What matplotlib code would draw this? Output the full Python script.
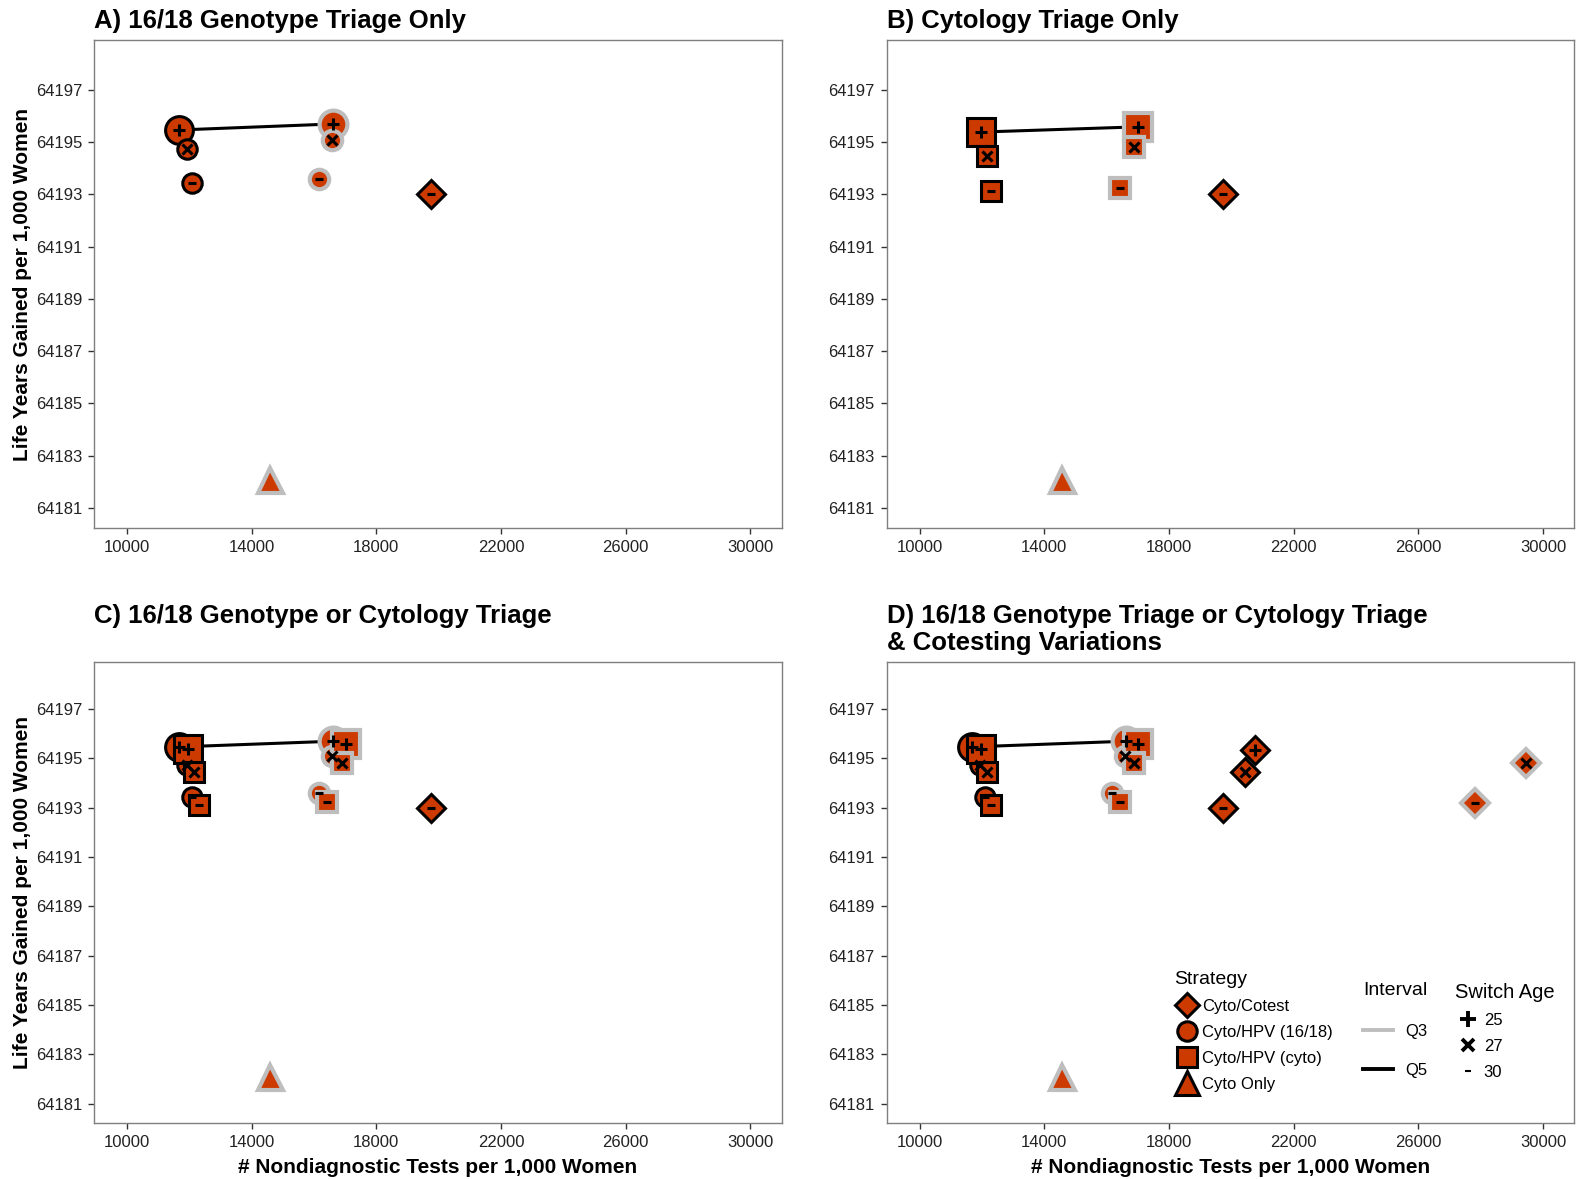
import matplotlib

matplotlib.use("Agg")
import matplotlib.pyplot as plt  # noqa: E402
from matplotlib.lines import Line2D  # noqa: E402

plt.rcParams["font.family"] = ["Liberation Sans", "DejaVu Sans"]

# ---- data ----
strategy = (["Cyto/HPV (16/18)"] * 6 + ["Cyto/HPV (cyto)"] * 6
            + ["Cyto/Cotest"] * 5 + ["Cyto Only"])
interval = (["Q5", "Q5", "Q5", "Q3", "Q3", "Q3"] * 2
            + ["Q5", "Q5", "Q5", "Q3", "Q3"] + ["Q3"])
switch_age = ([25, 27, 30, 25, 27, 30] * 2
              + [25, 27, 30, 27, 30] + [None])
tests = [11677, 11935, 12097, 16613, 16580, 16161,
         11971, 12165, 12294, 17011, 16882, 16430,
         20759, 20436, 19742, 29451, 27803,
         14580]
life_years = [64195.46, 64194.73, 64193.42, 64195.69, 64195.08, 64193.58,
              64195.38, 64194.46, 64193.12, 64195.58, 64194.81, 64193.23,
              64195.33, 64194.43, 64193.00, 64194.80, 64193.20,
              64182.08]

panel_titles = ["A) 16/18 Genotype Triage Only",
                "B) Cytology Triage Only",
                "C) 16/18 Genotype or Cytology Triage",
                "D) 16/18 Genotype Triage or Cytology Triage\n& Cotesting Variations"]
panel_strategies = [["Cyto/HPV (16/18)"], ["Cyto/HPV (cyto)"],
                    ["Cyto/HPV (16/18)", "Cyto/HPV (cyto)"],
                    ["Cyto/HPV (16/18)", "Cyto/HPV (cyto)"]]
panel_cotest_all = [False, False, False, True]
frontier_strategy = ["Cyto/HPV (16/18)", "Cyto/HPV (cyto)",
                     "Cyto/HPV (16/18)", "Cyto/HPV (16/18)"]

x_ticks = [10000, 14000, 18000, 22000, 26000, 30000]
y_ticks = [64181, 64183, 64185, 64187, 64189, 64191, 64193, 64195, 64197]

# ---- styles ----
FILL = "#CD3A00"
EDGE = {"Q5": "black", "Q3": "#BEBEBE"}
EDGE_W = {"Q5": 2.2, "Q3": 3.0}
SHAPE = {"Cyto/Cotest": "D", "Cyto/HPV (16/18)": "o",
         "Cyto/HPV (cyto)": "s", "Cyto Only": "^"}
SIZE = {25: 20, 27: 14, 30: 14}
SYMBOL = {25: ("+", 9, 2.2), 27: ("x", 7, 2.2), 30: ("_", 6, 2.2)}
DRAW_ORDER = ["Cyto/Cotest", "Cyto/HPV (16/18)", "Cyto/HPV (cyto)", "Cyto Only"]
W, H = 1579, 1179


def marker_size(strat, age):
    if strat == "Cyto/Cotest":
        return 14
    if strat == "Cyto Only":
        return 18
    return SIZE[age]


def panel_points(i):
    idx = []
    for k, s in enumerate(strategy):
        if s in panel_strategies[i] or s == "Cyto Only":
            idx.append(k)
        elif s == "Cyto/Cotest":
            if panel_cotest_all[i] or (interval[k] == "Q5" and switch_age[k] == 30):
                idx.append(k)
    return idx


fig = plt.figure(figsize=(W / 100, H / 100), dpi=100)
rects = [[0.0595, 0.552, 0.4355, 0.414],
         [0.5615, 0.552, 0.4355, 0.414],
         [0.0595, 0.0475, 0.4355, 0.391],
         [0.5615, 0.0475, 0.4355, 0.391]]
# title first-line centre, in pixels from the top
title_y = [21, 21, 616, 616]

for i, r in enumerate(rects):
    ax = fig.add_axes(r)
    idx = panel_points(i)

    # frontier line
    fs = frontier_strategy[i]
    fk = [k for k in range(len(strategy)) if strategy[k] == fs and switch_age[k] == 25]
    fk.sort(key=lambda k: tests[k])
    ax.plot([tests[k] for k in fk], [life_years[k] for k in fk],
            color="black", lw=2.2, zorder=2)

    # filled shapes
    for strat in DRAW_ORDER:
        for k in idx:
            if strategy[k] != strat:
                continue
            ax.plot(tests[k], life_years[k], ls="none", marker=SHAPE[strat],
                    ms=marker_size(strat, switch_age[k]), mfc=FILL,
                    mec=EDGE[interval[k]], mew=EDGE_W[interval[k]], zorder=3)
    # switch age symbols
    for k in idx:
        if switch_age[k] is None:
            continue
        m, ms, mw = SYMBOL[switch_age[k]]
        ax.plot(tests[k], life_years[k], ls="none", marker=m, ms=ms,
                mec="black", mew=mw, zorder=4)

    ax.set_xlim(8940, 31000)
    ax.set_ylim(64180.22, 64198.9)
    ax.set_xticks(x_ticks)
    ax.set_yticks(y_ticks)
    ax.tick_params(direction="out", length=4, width=1, color="#333333",
                   labelsize=12, labelcolor="#222222", pad=4.5)
    for sp in ax.spines.values():
        sp.set_color("#7F7F7F")
        sp.set_linewidth(1.0)

    for j, line in enumerate(panel_titles[i].split("\n")):
        fig.text(r[0], 1 - (title_y[i] + 27 * j) / H, line, fontsize=18.5,
                 fontweight="bold", ha="left", va="center")

    if i in (0, 2):
        ax.set_ylabel("Life Years Gained per 1,000 Women", fontsize=15,
                      fontweight="bold", labelpad=3)
    if i in (2, 3):
        ax.set_xlabel("# Nondiagnostic Tests per 1,000 Women", fontsize=15,
                      fontweight="bold", labelpad=6)

    if i == 3:
        strat_names = ["Cyto/Cotest", "Cyto/HPV (16/18)", "Cyto/HPV (cyto)", "Cyto Only"]
        strat_handles = [Line2D([], [], ls="none", marker=SHAPE[s], mfc=FILL,
                                mec="black", mew=2.2,
                                ms={"D": 12, "o": 14, "s": 15, "^": 17}[SHAPE[s]])
                         for s in strat_names]
        leg1 = ax.legend(strat_handles, strat_names,
                         title="Strategy", loc="upper left",
                         bbox_to_anchor=(0.418, 0.33), frameon=False,
                         fontsize=12, title_fontsize=14, alignment="left",
                         handlelength=1.6, handletextpad=0.1,
                         labelspacing=0.66, borderpad=0, borderaxespad=0)
        ax.add_artist(leg1)
        int_handles = [Line2D([], [], color="#BEBEBE", lw=2.8),
                       Line2D([], [], color="black", lw=2.8)]
        leg2 = ax.legend(int_handles, ["Q3", "Q5"], title="Interval",
                         loc="upper left", bbox_to_anchor=(0.693, 0.305),
                         frameon=False, fontsize=12, title_fontsize=14,
                         alignment="left", handlelength=1.8,
                         handletextpad=0.7, labelspacing=1.45,
                         borderpad=0, borderaxespad=0)
        ax.add_artist(leg2)
        age_handles = [Line2D([], [], ls="none", marker="+", ms=12, mec="black", mew=2.8),
                       Line2D([], [], ls="none", marker="x", ms=9, mec="black", mew=2.8),
                       Line2D([], [], ls="none", marker="_", ms=5, mec="black", mew=1.5)]
        ax.legend(age_handles, ["25", "27", "30"], title="Switch Age",
                  loc="upper left", bbox_to_anchor=(0.826, 0.303),
                  frameon=False, fontsize=12, title_fontsize=14.5,
                  alignment="left", handlelength=1.55, handletextpad=0.2,
                  labelspacing=0.65, borderpad=0, borderaxespad=0)

fig.savefig("out.png", dpi=100)
